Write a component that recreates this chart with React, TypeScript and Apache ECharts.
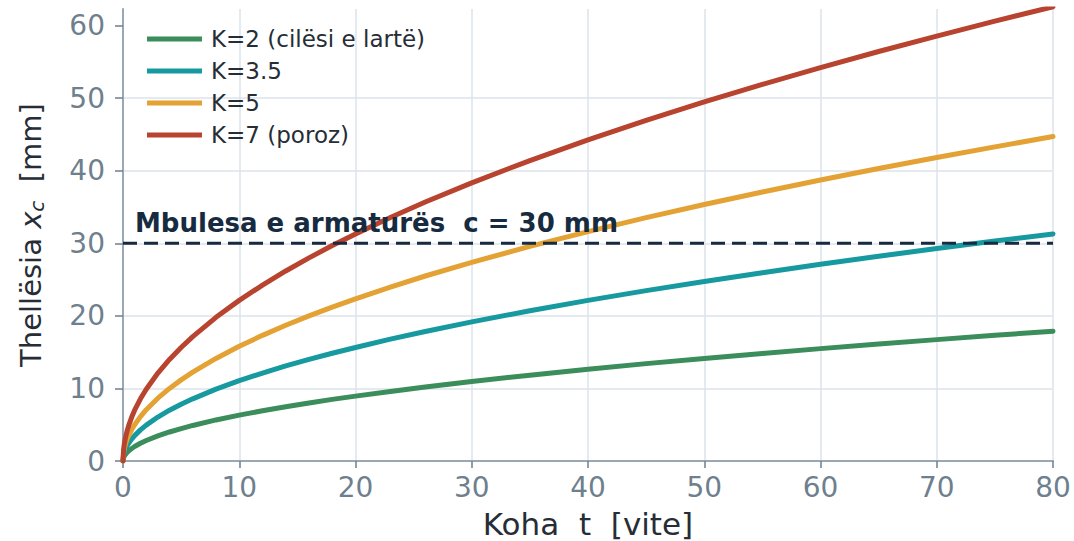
import React, { useEffect, useRef } from "react";
import * as echarts from "echarts";

const tYears = [0, 0.05, 0.1, 0.2, 0.35, 0.5, 0.75, 1, 1.5, 2, 3, 4, 5, 6, 8, 10, 12, 14, 16, 18, 20, 23, 26, 30, 35, 40, 45, 50, 55, 60, 65, 70, 75, 80];
const k2 = [0, 0.45, 0.63, 0.89, 1.18, 1.41, 1.73, 2.0, 2.45, 2.83, 3.46, 4.0, 4.47, 4.9, 5.66, 6.32, 6.93, 7.48, 8.0, 8.49, 8.94, 9.59, 10.2, 10.95, 11.83, 12.65, 13.42, 14.14, 14.83, 15.49, 16.12, 16.73, 17.32, 17.89];
const k35 = [0, 0.78, 1.11, 1.57, 2.07, 2.47, 3.03, 3.5, 4.29, 4.95, 6.06, 7.0, 7.83, 8.57, 9.9, 11.07, 12.12, 13.1, 14.0, 14.85, 15.65, 16.79, 17.85, 19.17, 20.71, 22.14, 23.48, 24.75, 25.96, 27.11, 28.22, 29.28, 30.31, 31.3];
const k5 = [0, 1.12, 1.58, 2.24, 2.96, 3.54, 4.33, 5.0, 6.12, 7.07, 8.66, 10.0, 11.18, 12.25, 14.14, 15.81, 17.32, 18.71, 20.0, 21.21, 22.36, 23.98, 25.5, 27.39, 29.58, 31.62, 33.54, 35.36, 37.08, 38.73, 40.31, 41.83, 43.3, 44.72];
const k7 = [0, 1.57, 2.21, 3.13, 4.14, 4.95, 6.06, 7.0, 8.57, 9.9, 12.12, 14.0, 15.65, 17.15, 19.8, 22.14, 24.25, 26.19, 28.0, 29.7, 31.3, 33.57, 35.69, 38.34, 41.41, 44.27, 46.96, 49.5, 51.91, 54.22, 56.44, 58.57, 60.62, 62.61];
const seriesNames = ["K=2 (cilësi e lartë)", "K=3.5", "K=5", "K=7 (poroz)"];
const seriesColors = ["#3b8d5b", "#16999f", "#e3a233", "#b8432f"];
const coverX = [0, 80];
const coverY = [30, 30];
const coverLabel = "Mbulesa e armaturës  c = 30 mm";
const yTicks = [0, 10, 20, 30, 40, 50, 60];

export default function App() {
  const ref = useRef<HTMLDivElement>(null);
  useEffect(() => {
    if (!ref.current) return;
    document.body.style.margin = "0";
    const chart = echarts.init(ref.current, undefined, { renderer: "svg" });
    const all = [k2, k35, k5, k7];
    const font = "DejaVu Sans";
    chart.setOption({
      animation: false,
      textStyle: { fontFamily: font },
      grid: { left: 123, right: 21, top: 9, bottom: 80, containLabel: false, outerBoundsMode: "none" },
      legend: {
        data: seriesNames,
        orient: "vertical",
        left: 142,
        top: 22,
        icon: "rect",
        itemWidth: 55,
        itemHeight: 5,
        itemGap: 8,
        textStyle: { fontSize: 23, color: "#262d36", fontFamily: font, lineHeight: 24, padding: [0, 0, 0, 4] },
      },
      xAxis: {
        type: "value",
        min: 0,
        max: 80,
        interval: 10,
        name: "Koha  t  [vite]",
        nameLocation: "middle",
        nameGap: 47,
        nameTextStyle: { fontSize: 31, color: "#262d36", fontFamily: font },
        axisLine: { show: true, lineStyle: { color: "#9aa8b6", width: 2 } },
        axisTick: { show: true, length: 7, lineStyle: { color: "#6e7f8e", width: 1.5 } },
        axisLabel: { fontSize: 28, color: "#6e7f8e", margin: 12, fontFamily: font },
        splitLine: { show: true, showMaxLine: true, lineStyle: { color: "#dde3eb", width: 1.5 } },
      },
      yAxis: {
        type: "value",
        min: 0,
        max: 62.3,
        interval: 10,
        name: "{a|Thellësia }{i|x}{s|c}{a|  [mm]}",
        nameLocation: "middle",
        nameGap: 76,
        nameRotate: 90,
        nameTextStyle: {
          color: "#262d36",
          rich: {
            a: { fontSize: 29, color: "#262d36", fontFamily: font },
            i: { fontSize: 29, color: "#262d36", fontFamily: font, fontStyle: "italic" },
            s: { fontSize: 20, color: "#262d36", fontFamily: font, fontStyle: "italic", padding: [12, 0, 0, 0] },
          },
        },
        axisLine: { show: true, lineStyle: { color: "#9aa8b6", width: 2 } },
        axisTick: { show: true, length: 8, customValues: yTicks, lineStyle: { color: "#6e7f8e", width: 1.5 } },
        axisLabel: {
          fontSize: 28,
          color: "#6e7f8e",
          margin: 18,
          fontFamily: font,
          customValues: yTicks,
          formatter: (v: number) => (yTicks.includes(v) ? String(v) : ""),
        },
        splitLine: { show: true, showMaxLine: false, lineStyle: { color: "#dde3eb", width: 1.5 } },
      },
      series: [
        ...all.map((vals, i) => ({
          name: seriesNames[i],
          type: "line",
          data: tYears.map((t, j) => [t, vals[j]]),
          smooth: false,
          showSymbol: false,
          symbol: "none",
          lineStyle: { color: seriesColors[i], width: 5, cap: "round", join: "round" },
          itemStyle: { color: seriesColors[i] },
          z: 3 + i,
        })),
        {
          name: "cover",
          type: "line",
          data: coverX.map((x, j) => [x, coverY[j]]),
          symbol: "none",
          lineStyle: { color: "#172b40", width: 3, type: [14, 7] },
          z: 10,
        },
      ],
      graphic: [
        {
          type: "text",
          left: 135,
          top: 210,
          style: { text: coverLabel, fontSize: 26, fontWeight: "bold", fill: "#172b40", fontFamily: font },
          z: 20,
        },
      ],
    });
    return () => chart.dispose();
  }, []);
  return <div ref={ref} style={{ width: 1074, height: 541 }} />;
}
